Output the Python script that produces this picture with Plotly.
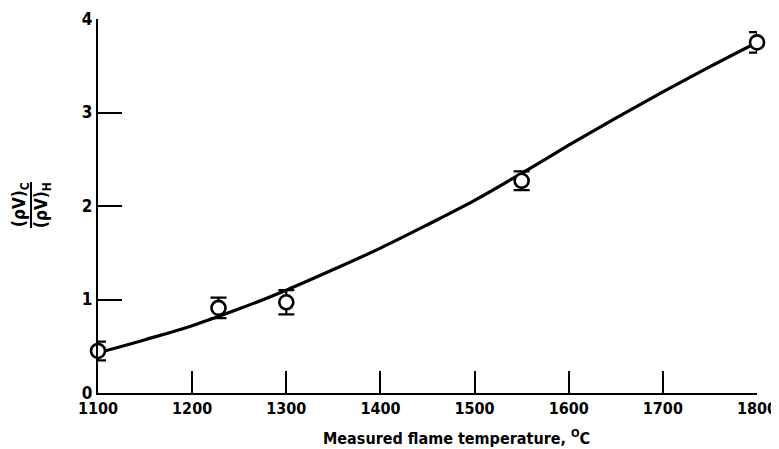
import plotly.graph_objects as go

# Measured points
temp_pts = [1100, 1228, 1300, 1550, 1800]
ratio_pts = [0.45, 0.91, 0.97, 2.27, 3.75]
ratio_err = [0.10, 0.11, 0.13, 0.10, 0.11]

# Smooth fitted curve
temp_curve = [1100, 1150, 1200, 1250, 1300, 1350, 1400, 1450, 1500, 1550, 1600, 1650, 1700, 1750, 1800]
ratio_curve = [0.43, 0.57, 0.72, 0.90, 1.10, 1.32, 1.55, 1.80, 2.06, 2.35, 2.65, 2.94, 3.22, 3.49, 3.75]

x_ticks = [1100, 1200, 1300, 1400, 1500, 1600, 1700, 1800]
y_ticks = [0, 1, 2, 3, 4]

FONT = "DejaVu Sans Condensed, Liberation Sans Narrow, Roboto, sans-serif"
ann_font = dict(family=FONT, size=17, weight="bold", color="black")

# page has an 8px body margin; figure placed at (8, 8)
FW, FH = 771, 441
L, R, T, B = 90, 22, 11, 56

fig = go.Figure()
fig.add_trace(go.Scatter(
    x=temp_curve, y=ratio_curve, mode="lines", line_shape="spline",
    line=dict(color="black", width=3.2, smoothing=1.0), hoverinfo="skip", cliponaxis=False))
fig.add_trace(go.Scatter(
    x=temp_pts, y=ratio_pts, mode="markers", cliponaxis=False,
    marker=dict(symbol="circle", size=14, color="white",
                line=dict(color="black", width=2.6)),
    error_y=dict(type="data", array=ratio_err, color="black", thickness=2.2, width=8)))

fig.update_layout(
    width=FW, height=FH, showlegend=False,
    paper_bgcolor="white", plot_bgcolor="white",
    margin=dict(l=L, r=R, t=T, b=B, autoexpand=False),
    font=dict(family=FONT, size=16, color="black", weight="bold"),
    xaxis=dict(range=[1100, 1800], tickvals=x_ticks, showgrid=False, zeroline=False,
               automargin=False,
               showline=True, linecolor="black", linewidth=2.2,
               ticks="inside", ticklen=22, tickwidth=2, tickcolor="black",
               tickfont=dict(family=FONT, size=16, weight="bold")),
    yaxis=dict(range=[0, 4], tickvals=y_ticks, showgrid=False, zeroline=False,
               automargin=False,
               showline=True, linecolor="black", linewidth=2.2,
               ticks="inside", ticklen=24, tickwidth=2, tickcolor="black",
               tickfont=dict(family=FONT, size=17, weight="bold")),
)

# convert page-pixel positions to paper fractions
W, H = FW - L - R, FH - T - B
def px(xp):
    return (xp - 8 - L) / W
def py(yp):
    return (FH - B - (yp - 8)) / H

# x-axis title (offset right, as in the original)
fig.add_annotation(x=px(457), y=py(437), xref="paper", yref="paper",
                   text="Measured flame temperature, <sup>O</sup>C",
                   showarrow=False, font=dict(family=FONT, size=16, weight="bold"),
                   xanchor="center", yanchor="middle")

# Fraction-style y-axis label (rotated)
fig.add_annotation(x=px(20), y=py(205), xref="paper", yref="paper", text="(ρV)<sub>C</sub>",
                   textangle=-90, showarrow=False, font=ann_font, xanchor="center", yanchor="middle")
fig.add_annotation(x=px(42), y=py(205), xref="paper", yref="paper", text="(ρV)<sub>H</sub>",
                   textangle=-90, showarrow=False, font=ann_font, xanchor="center", yanchor="middle")
fig.add_shape(type="line", xref="paper", yref="paper", x0=px(31), x1=px(31),
              y0=py(182), y1=py(228), line=dict(color="black", width=2))

# keep the page free of scrollbars
fig.write_html("out.html",
               post_script="document.documentElement.style.overflow='hidden';"
                           "document.body.style.overflow='hidden';")
